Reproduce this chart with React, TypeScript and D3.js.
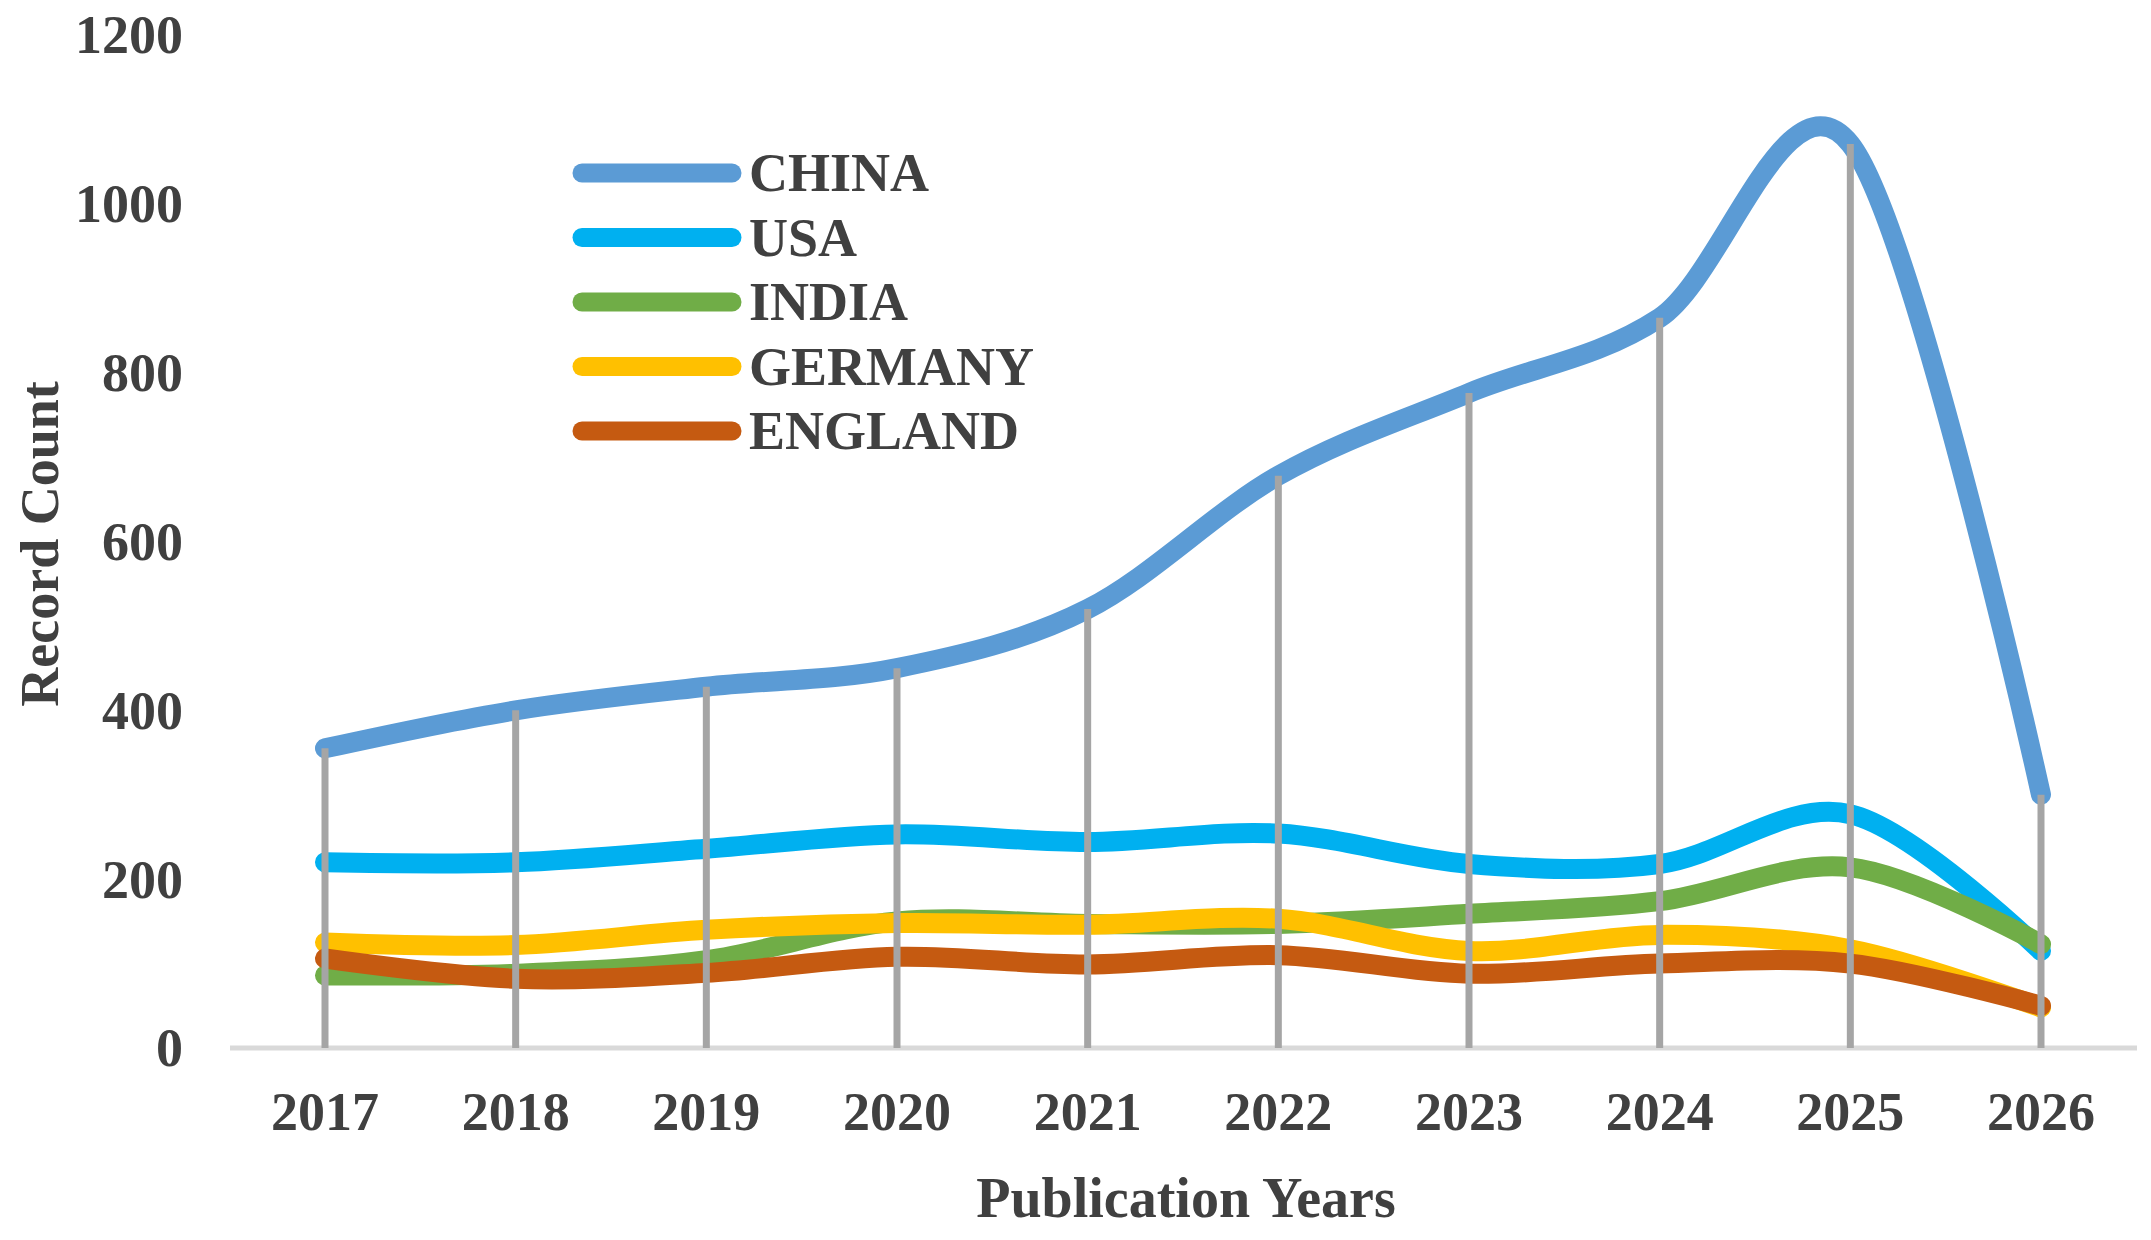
import { useEffect, useRef } from 'react';
import * as d3 from 'd3';

// values
const YEARS = [2017, 2018, 2019, 2020, 2021, 2022, 2023, 2024, 2025, 2026];
const CHINA = [355, 400, 428, 450, 520, 678, 776, 865, 1071, 300];
const USA = [220, 220, 236, 253, 244, 254, 218, 218, 277, 115];
const INDIA = [86, 88, 104, 150, 147, 147, 159, 174, 214, 123];
const GERMANY = [125, 122, 140, 148, 146, 153, 115, 134, 117, 48];
const ENGLAND = [106, 82, 89, 108, 99, 110, 88, 100, 100, 50];

const SERIES_NAMES = ['CHINA', 'USA', 'INDIA', 'GERMANY', 'ENGLAND'];
const Y_TICKS = [0, 200, 400, 600, 800, 1000, 1200];

const COLORS: Record<string, string> = {
  CHINA: '#5B9BD5', USA: '#00B0F0', INDIA: '#70AD47',
  GERMANY: '#FFC000', ENGLAND: '#C55A11',
};

const FONT = '"Times New Roman", "Liberation Serif", serif';
const TEXT = '#404040';

export default function App() {
  const svgRef = useRef<SVGSVGElement>(null);

  useEffect(() => {
    if (!svgRef.current) return;
    const svg = d3.select(svgRef.current);
    svg.selectAll('*').remove();

    const series = [
      { name: 'CHINA', values: CHINA },
      { name: 'USA', values: USA },
      { name: 'INDIA', values: INDIA },
      { name: 'GERMANY', values: GERMANY },
      { name: 'ENGLAND', values: ENGLAND },
    ];

    const x = d3.scalePoint<number>().domain(YEARS).range([325, 2041]);
    const y = d3.scaleLinear().domain([0, 1200]).range([1048, 35]);

    // category axis line
    svg.append('line')
      .attr('x1', 230).attr('x2', 2137)
      .attr('y1', y(0)).attr('y2', y(0))
      .attr('stroke', '#D9D9D9').attr('stroke-width', 5);

    // y tick labels
    svg.append('g').selectAll('text').data(Y_TICKS).join('text')
      .attr('x', 183).attr('y', (d) => y(d)).attr('dy', '0.34em')
      .attr('text-anchor', 'end')
      .attr('font-family', FONT).attr('font-weight', 'bold').attr('font-size', 54)
      .attr('fill', TEXT)
      .text((d) => d);

    // x tick labels
    svg.append('g').selectAll('text').data(YEARS).join('text')
      .attr('x', (d) => x(d)!).attr('y', 1130)
      .attr('text-anchor', 'middle')
      .attr('font-family', FONT).attr('font-weight', 'bold').attr('font-size', 54)
      .attr('fill', TEXT)
      .text((d) => d);

    // smoothed series lines
    const line = d3.line<number>()
      .x((_, i) => x(YEARS[i])!)
      .y((d) => y(d))
      .curve(d3.curveCardinal.tension(0));

    svg.append('g').selectAll('path').data(series).join('path')
      .attr('d', (s) => line(s.values))
      .attr('fill', 'none')
      .attr('stroke', (s) => COLORS[s.name])
      .attr('stroke-width', 20)
      .attr('stroke-linecap', 'round')
      .attr('stroke-linejoin', 'round');

    // drop lines from the top series to the axis
    svg.append('g').selectAll('line').data(YEARS).join('line')
      .attr('x1', (d) => x(d)!).attr('x2', (d) => x(d)!)
      .attr('y1', (_, i) => y(CHINA[i])).attr('y2', y(0))
      .attr('stroke', '#A5A5A5').attr('stroke-width', 7);

    // legend
    const ly = d3.scalePoint<string>().domain(SERIES_NAMES).range([173, 431]);
    const legend = svg.append('g').selectAll('g').data(SERIES_NAMES).join('g')
      .attr('transform', (d) => `translate(0,${ly(d)})`);
    legend.append('line')
      .attr('x1', 582).attr('x2', 732)
      .attr('stroke', (d) => COLORS[d])
      .attr('stroke-width', 19).attr('stroke-linecap', 'round');
    legend.append('text')
      .attr('x', 749).attr('y', 18)
      .attr('font-family', FONT).attr('font-weight', 'bold').attr('font-size', 54)
      .attr('fill', TEXT)
      .text((d) => d);

    // axis titles
    svg.append('text')
      .attr('transform', 'translate(58,544) rotate(-90)')
      .attr('text-anchor', 'middle')
      .attr('font-family', FONT).attr('font-weight', 'bold').attr('font-size', 54)
      .attr('fill', TEXT)
      .text('Record Count');

    svg.append('text')
      .attr('x', 1186).attr('y', 1217)
      .attr('text-anchor', 'middle')
      .attr('font-family', FONT).attr('font-weight', 'bold').attr('font-size', 56)
      .attr('fill', TEXT)
      .text('Publication Years');
  }, []);

  return (
    <div style={{ position: 'absolute', left: 0, top: 0 }}>
      <svg
        ref={svgRef}
        width={2151}
        height={1240}
        viewBox="0 0 2151 1240"
        style={{ display: 'block', background: '#ffffff' }}
        role="img"
        aria-label="Record count by publication year and country"
      />
    </div>
  );
}
